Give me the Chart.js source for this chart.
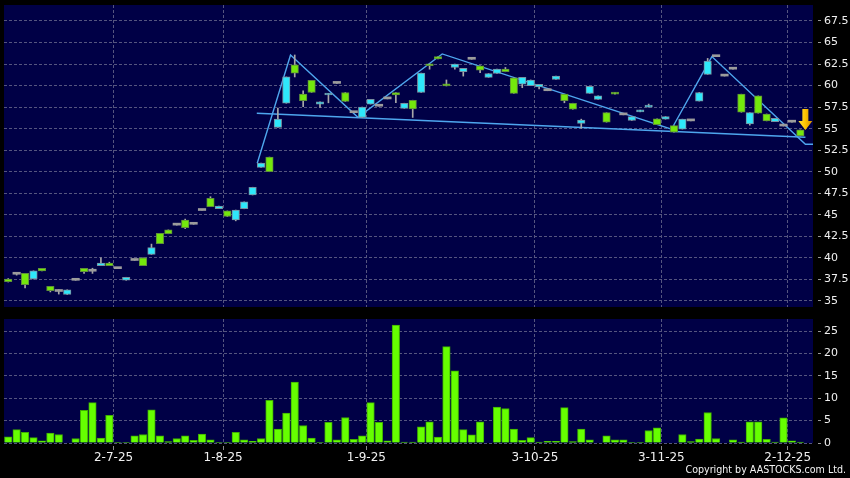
<!DOCTYPE html>
<html>
<head>
<meta charset="utf-8">
<script src="https://cdn.jsdelivr.net/npm/chart.js@4.4.1/dist/chart.umd.min.js"></script>
<style>
  html, body { margin: 0; padding: 0; background: #000; }
  #wrap { position: relative; width: 850px; height: 478px; overflow: hidden; background: #000; }
  canvas { position: absolute; left: 0; }
  #price-chart { top: 0; }
  #volume-chart { top: 312px; }
  #copyright {
    position: absolute; right: 4px; top: 463px;
    color: #f4f4f4; font: 10.6px "DejaVu Sans Condensed", "DejaVu Sans", sans-serif;
    font-stretch: condensed; white-space: nowrap;
  }
</style>
</head>
<body>
<div id="wrap">
  <canvas id="price-chart" width="850" height="312"></canvas>
  <canvas id="volume-chart" width="850" height="166"></canvas>
  <div id="copyright">Copyright by AASTOCKS.com Ltd.</div>
</div>
<script>
// daily candles, oldest first (index 0 .. 94)
const opens = [
  37.25, 38.1, 36.9, 38.5, 38.5, 36.2, 36.1, 36.3, 37.4, 38.4,
  38.45, 39.4, 39.1, 38.75, 37.75, 39.7, 39.1, 41.2, 41.65, 42.8,
  43.8, 43.5, 43.9, 45.5, 45.95, 46.0, 44.8, 45.55, 46.5, 48.2,
  51.0, 50.0, 56.1, 61.0, 61.45, 58.25, 59.2, 58.1, 59.1, 60.25,
  58.15, 56.85, 57.5, 58.4, 57.6, 58.45, 58.9, 57.95, 57.3, 61.45,
  62.3, 63.1, 59.95, 62.5, 62.0, 63.05, 61.8, 61.4, 61.9, 61.6,
  59.1, 60.95, 60.65, 60.15, 59.4, 61.1, 58.25, 57.25, 56.0, 59.9,
  58.8, 55.75, 59.0, 56.6, 56.4, 57.15, 57.7, 55.45, 56.4, 54.6,
  56.1, 55.9, 59.2, 62.85, 63.35, 61.1, 61.9, 56.9, 56.85, 56.8,
  55.9, 56.2, 55.3, 55.75, 54.15
];
const closes = [
  37.55, 38.1, 38.2, 37.55, 38.8, 36.7, 36.1, 35.75, 37.4, 38.8,
  38.45, 39.1, 39.4, 38.75, 37.4, 39.7, 40.0, 40.4, 42.85, 43.25,
  43.8, 44.4, 43.9, 45.5, 46.9, 45.7, 45.45, 44.4, 45.7, 47.3,
  50.5, 51.7, 55.15, 57.95, 62.4, 59.0, 60.6, 57.85, 58.9, 60.25,
  59.2, 56.85, 56.3, 57.85, 57.6, 58.45, 59.2, 57.35, 58.3, 59.2,
  62.5, 63.35, 60.2, 62.1, 61.6, 63.05, 62.3, 60.95, 61.4, 61.9,
  60.9, 60.15, 60.0, 59.85, 59.4, 60.7, 59.0, 57.95, 55.6, 59.1,
  58.4, 56.85, 59.2, 56.6, 55.95, 56.95, 57.5, 56.15, 56.1, 55.35,
  54.95, 55.9, 58.2, 61.3, 63.35, 61.1, 61.9, 59.0, 55.55, 58.8,
  56.7, 55.8, 55.3, 55.75, 54.85
];
const highs = [
  37.6, 38.3, 38.2, 38.5, 38.8, 36.7, 36.3, 36.3, 37.4, 38.8,
  38.8, 40.0, 39.5, 38.75, 37.75, 39.7, 40.0, 41.6, 42.85, 43.25,
  43.8, 44.5, 43.9, 45.5, 47.1, 46.0, 45.45, 45.55, 46.5, 48.2,
  51.0, 51.7, 57.4, 61.0, 63.55, 59.4, 60.6, 58.1, 59.1, 60.25,
  59.2, 56.85, 57.5, 58.4, 57.6, 58.45, 59.2, 57.95, 58.3, 61.45,
  62.5, 63.35, 60.65, 62.5, 62.0, 63.05, 62.3, 61.4, 61.9, 62.1,
  60.9, 60.95, 60.65, 60.15, 59.4, 61.1, 59.0, 57.95, 56.1, 59.9,
  58.8, 56.85, 59.2, 56.6, 56.4, 57.15, 57.85, 56.15, 56.4, 55.35,
  56.1, 55.9, 59.2, 63.15, 63.35, 61.1, 61.9, 59.0, 56.85, 58.8,
  56.7, 56.2, 55.3, 55.75, 54.85
];
const lows = [
  37.2, 38.0, 36.5, 37.55, 38.5, 36.05, 35.8, 35.75, 37.4, 38.2,
  38.2, 39.1, 39.1, 38.75, 37.4, 39.7, 39.1, 40.4, 41.65, 42.8,
  43.8, 43.4, 43.9, 45.5, 45.95, 45.7, 44.8, 44.3, 45.7, 47.3,
  50.5, 50.0, 55.15, 57.95, 61.0, 57.55, 59.2, 57.45, 58.0, 60.25,
  58.15, 56.85, 56.3, 57.85, 57.6, 58.45, 58.0, 57.35, 56.3, 59.2,
  61.9, 63.1, 59.95, 61.9, 61.1, 63.05, 61.5, 60.95, 61.4, 61.6,
  59.1, 59.75, 60.0, 59.6, 59.4, 60.7, 58.0, 57.25, 55.05, 59.1,
  58.4, 55.75, 59.0, 56.6, 55.95, 56.95, 57.5, 55.45, 56.1, 54.6,
  54.95, 55.9, 58.2, 61.3, 63.35, 61.1, 61.9, 56.9, 55.4, 56.8,
  55.9, 55.8, 55.3, 55.75, 54.15
];
const volumes = [
  1.4, 3.0, 2.4, 1.2, 0.5, 2.2, 1.9, 0, 1.0, 7.3,
  9.0, 1.1, 6.2, 0.1, 0.1, 1.6, 1.9, 7.4, 1.6, 0.3,
  1.0, 1.6, 0.6, 2.0, 0.7, 0.1, 0.1, 2.4, 0.7, 0.4,
  1.0, 9.5, 3.1, 6.7, 13.6, 3.9, 1.1, 0.1, 4.6, 0.7,
  5.7, 0.8, 1.6, 9.0, 4.6, 0.5, 26.3, 0.2, 0.2, 3.6,
  4.7, 1.3, 21.5, 16.1, 3.0, 1.8, 4.7, 0, 8.0, 7.7,
  3.1, 0.6, 1.2, 0.2, 0.4, 0.4, 7.9, 0.3, 3.1, 0.7,
  0, 1.6, 0.7, 0.7, 0.1, 0.1, 2.8, 3.4, 0, 0,
  1.9, 0.3, 0.9, 6.8, 1.0, 0, 0.7, 0.2, 4.7, 4.7,
  0.8, 0.2, 5.6, 0.5, 0.2
];

// first trading day of each month shown on the axis
const monthStartIdx = [13, 26, 43, 63, 78, 93];
const monthLabels = ['2-7-25', '1-8-25', '1-9-25', '3-10-25', '3-11-25', '2-12-25'];
const priceTicks = [35, 37.5, 40, 42.5, 45, 47.5, 50, 52.5, 55, 57.5, 60, 62.5, 65, 67.5];
const volumeTicks = [0, 5, 10, 15, 20, 25];

// drawn trend lines (x = candle index, y = price)
const zigzagX = [29.55, 33.5, 41.5, 51.5, 78.7, 83.5, 94.6, 95.5];
const zigzagY = [50.98, 63.55, 56.32, 63.67, 54.93, 63.36, 53.19, 53.19];
const necklineX = [29.5, 94.6];
const necklineY = [56.79, 54.0];

(() => {
    const PLOT_BG = '#000046';
    const GRID = '#55557f';
    const CYAN = '#2ee8fb';
    const LIME = '#74e80c';
    const FLAT = '#9c9c9c';
    const LINE = '#4ea6ee';
    const FONT = 'DejaVu Sans';

    const App = {
        idx: opens.map((_, i) => i),
        init() {
            App.methods.buildPriceChart();
            App.methods.buildVolumeChart();
        },
        plugins: {
            plotBackground: {
                id: 'plotBackground',
                beforeDraw(chart) {
                    const { ctx, chartArea: a } = chart;
                    ctx.save();
                    ctx.fillStyle = '#000';
                    ctx.fillRect(0, 0, chart.width, chart.height);
                    ctx.fillStyle = PLOT_BG;
                    ctx.fillRect(a.left, a.top, a.right - a.left, a.bottom - a.top);
                    ctx.restore();
                }
            },
            lastArrow: {
                id: 'lastArrow',
                afterDatasetsDraw(chart) {
                    const last = closes.length - 1;
                    const ctx = chart.ctx;
                    const cx = chart.scales.x.getPixelForValue(last) + 5;
                    const tip = chart.scales.y.getPixelForValue(highs[last]);
                    const g = ctx.createLinearGradient(cx - 7, 0, cx + 7, 0);
                    g.addColorStop(0, '#ffe23a');
                    g.addColorStop(0.5, '#ffc400');
                    g.addColorStop(1, '#d08c00');
                    ctx.save();
                    ctx.fillStyle = g;
                    ctx.beginPath();
                    ctx.moveTo(cx - 3, tip - 21);
                    ctx.lineTo(cx + 3, tip - 21);
                    ctx.lineTo(cx + 3, tip - 9);
                    ctx.lineTo(cx + 7, tip - 9);
                    ctx.lineTo(cx, tip);
                    ctx.lineTo(cx - 7, tip - 9);
                    ctx.lineTo(cx - 3, tip - 9);
                    ctx.closePath();
                    ctx.fill();
                    ctx.restore();
                }
            }
        },
        methods: {
            xAxis(showLabels) {
                return {
                    type: 'linear',
                    min: -0.5,
                    max: opens.length + 0.5,
                    offset: false,
                    afterBuildTicks(s) {
                        s.ticks = monthStartIdx.map(v => ({ value: v - 0.5 }));
                    },
                    afterFit(s) {
                        s.height = showLabels ? 35 : 0;
                        s.paddingLeft = 0;
                        s.paddingRight = 0;
                    },
                    ticks: {
                        display: showLabels,
                        autoSkip: false,
                        maxRotation: 0,
                        padding: 1,
                        color: '#f0f0f0',
                        font: { family: FONT, size: 12 },
                        callback: (v, i) => monthLabels[i]
                    },
                    grid: {
                        offset: false,
                        color: GRID,
                        drawTicks: showLabels,
                        tickLength: 7,
                        tickColor: '#8a8a8a',
                        tickBorderDash: [0, 3, 4, 40]
                    },
                    border: { display: false, dash: [3, 2] }
                };
            },
            yAxis(min, max, tickList) {
                return {
                    position: 'right',
                    min: min,
                    max: max,
                    afterBuildTicks(s) {
                        s.ticks = tickList.map(v => ({ value: v }));
                    },
                    afterFit(s) {
                        s.width = 37;
                        s.paddingTop = 0;
                        s.paddingBottom = 0;
                    },
                    ticks: {
                        padding: 3,
                        color: '#f0f0f0',
                        font: { family: FONT, size: 11 },
                        callback: v => String(v)
                    },
                    grid: {
                        color: GRID,
                        tickLength: 8,
                        tickColor: '#9a9a9a',
                        tickBorderDash: [0, 5, 3, 40]
                    },
                    border: { display: false, dash: [3, 2] }
                };
            },
            buildPriceChart() {
                const idx = App.idx;
                const kind = i => closes[i] === opens[i] ? 'flat' : (closes[i] > opens[i] ? 'up' : 'down');

                const wicks = {
                    type: 'bar',
                    data: idx.map(i => ({ x: i, y: [lows[i], highs[i]] })),
                    backgroundColor: '#a8a8a8',
                    barThickness: 1,
                    grouped: false,
                    order: 2
                };
                const bodies = {
                    type: 'bar',
                    data: idx.map(i => ({ x: i, y: [Math.min(opens[i], closes[i]), Math.max(opens[i], closes[i])] })),
                    backgroundColor: ctx => {
                        const k = kind(ctx.dataIndex);
                        return k === 'flat' ? FLAT : (k === 'up' ? LIME : CYAN);
                    },
                    borderColor: ctx => {
                        const k = kind(ctx.dataIndex);
                        return k === 'up' ? '#5f8f3a' : '#7890a0';
                    },
                    borderWidth: ctx => kind(ctx.dataIndex) === 'flat' ? 0 : 1,
                    borderSkipped: false,
                    minBarLength: 2,
                    barThickness: 7.5,
                    grouped: false,
                    order: 1
                };
                const zigzag = {
                    type: 'line',
                    data: zigzagX.map((x, i) => ({ x: x, y: zigzagY[i] })),
                    borderColor: LINE,
                    borderWidth: 1.4,
                    pointRadius: 0,
                    tension: 0,
                    order: 3
                };
                const neckline = {
                    type: 'line',
                    data: necklineX.map((x, i) => ({ x: x, y: necklineY[i] })),
                    borderColor: LINE,
                    borderWidth: 1.4,
                    pointRadius: 0,
                    tension: 0,
                    order: 3
                };

                new Chart(document.getElementById('price-chart'), {
                    type: 'bar',
                    data: { datasets: [wicks, bodies, zigzag, neckline] },
                    options: {
                        responsive: false,
                        animation: false,
                        events: [],
                        layout: { padding: { left: 4, top: 5, right: 0, bottom: 5 } },
                        plugins: { legend: { display: false }, tooltip: { enabled: false } },
                        scales: {
                            x: App.methods.xAxis(false),
                            y: App.methods.yAxis(34.3, 69.35, priceTicks)
                        }
                    },
                    plugins: [App.plugins.plotBackground, App.plugins.lastArrow]
                });
            },
            buildVolumeChart() {
                new Chart(document.getElementById('volume-chart'), {
                    type: 'bar',
                    data: {
                        datasets: [{
                            data: App.idx.map(i => ({ x: i, y: volumes[i] })),
                            backgroundColor: '#66ff00',
                            borderColor: '#3fae00',
                            borderWidth: 1,
                            borderSkipped: 'start',
                            barThickness: 7.5
                        }]
                    },
                    options: {
                        responsive: false,
                        animation: false,
                        events: [],
                        layout: { padding: { left: 4, top: 7, right: 0, bottom: 0 } },
                        plugins: { legend: { display: false }, tooltip: { enabled: false } },
                        scales: {
                            x: App.methods.xAxis(true),
                            y: App.methods.yAxis(0, 27.68, volumeTicks)
                        }
                    },
                    plugins: [App.plugins.plotBackground]
                });
            }
        }
    };
    App.init();
})();
</script>
</body>
</html>
